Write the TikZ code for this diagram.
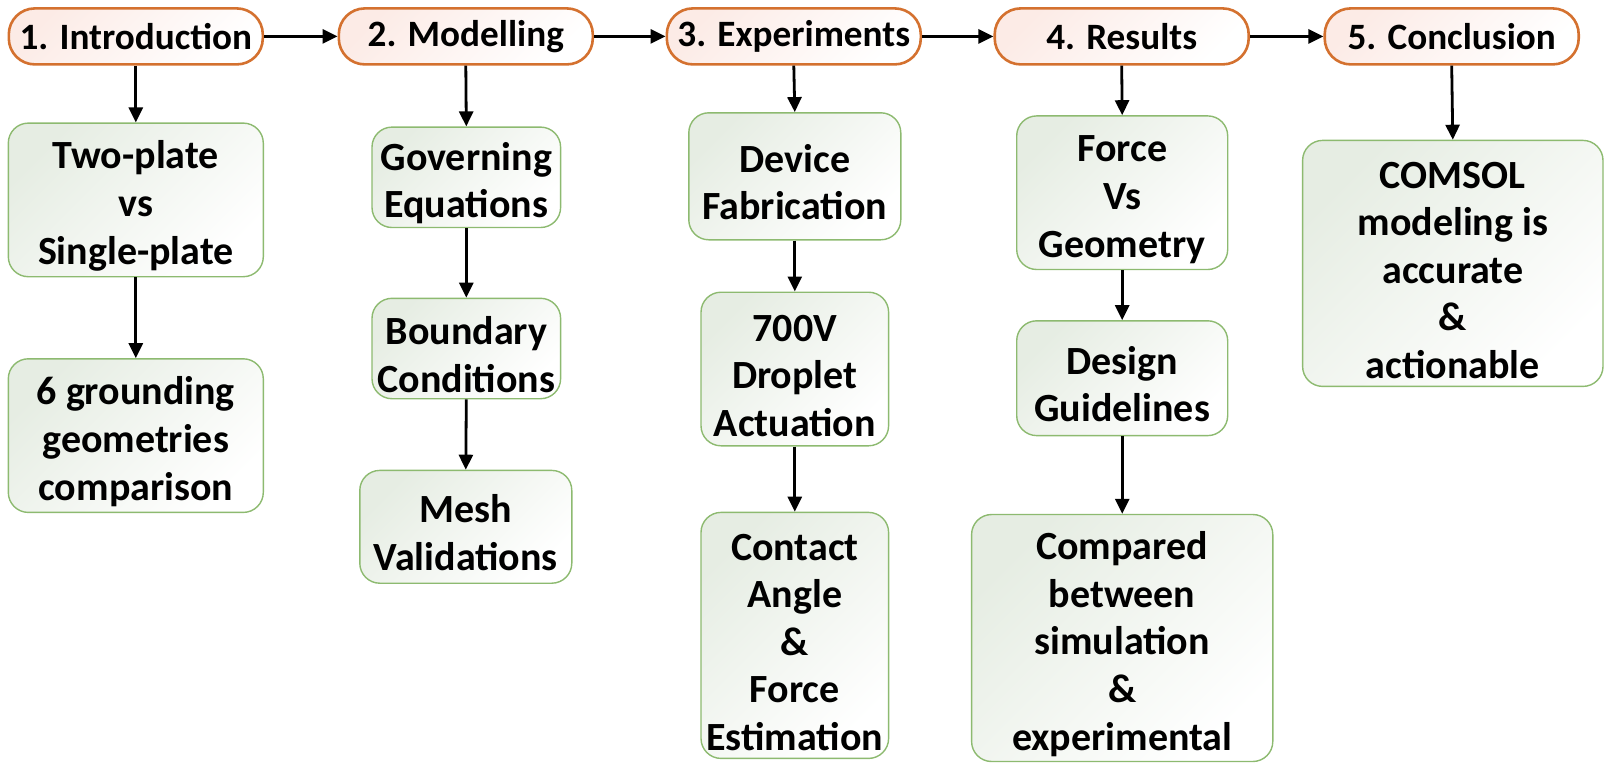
\documentclass[tikz,border=0pt]{standalone}
\usepackage{fontspec}
\setmainfont{Carlito}
\usetikzlibrary{arrows.meta}
\definecolor{hdrline}{HTML}{D4712F}
\definecolor{hdrfill}{HTML}{FCEBE6}
\definecolor{boxline}{HTML}{8DBA70}
\definecolor{boxfill}{HTML}{E6EDE3}
\newcommand\firstup{\rule{0pt}{20pt}}
\tikzset{
  hdr/.style={draw=hdrline, line width=1.3pt, rounded corners=13pt,
    top color=hdrfill, bottom color=white, shading angle=45,
    minimum width=127pt, minimum height=28pt, inner sep=0pt,
    font=\fontsize{18.6}{24}\selectfont\bfseries},
  gbox/.style={draw=boxline, line width=0.7pt, rounded corners=10pt,
    top color=boxfill, bottom color=white, shading angle=45,
    inner sep=0pt, align=center,
    font=\fontsize{20}{23.8}\selectfont\bfseries},
  conn/.style={line width=1.4pt, -{Triangle[length=7.5pt,width=7pt]}}
}
\begin{document}
\begin{tikzpicture}[x=0.5pt,y=-0.5pt]
\useasboundingbox (0,0) rectangle (1607,783);
% headers
\node[hdr] (h1) at (135.8,36.4) {1. Introduction};
\node[hdr] (h2) at (465.8,36.4) {2. Modelling};
\node[hdr] (h3) at (793.8,36.4) {3. Experiments};
\node[hdr] (h4) at (1121.7,36.4) {4. Results};
\node[hdr] (h5) at (1451.7,36.4) {5. Conclusion};
% column 1
\node[gbox, minimum width=127.5pt, minimum height=76.8pt] (a1) at (135.8,199.9) {\firstup Two-plate\\vs\\Single-plate};
\node[gbox, minimum width=127.5pt, minimum height=76.8pt] (a2) at (135.8,435.6) {\firstup 6 grounding\\geometries\\comparison};
% column 2
\node[gbox, minimum width=94.3pt, minimum height=50.2pt] (b1) at (466.3,177.3) {\firstup Governing\\Equations};
\node[gbox, minimum width=94.3pt, minimum height=50.2pt] (b2) at (466.3,348.5) {\firstup Boundary\\Conditions};
\node[gbox, minimum width=106pt, minimum height=56.4pt] (b3) at (465.8,526.8) {\firstup Mesh\\Validations};
% column 3
\node[gbox, minimum width=106pt, minimum height=63.5pt] (c1) at (794.8,176.3) {\firstup Device\\Fabrication};
\node[gbox, minimum width=93.8pt, minimum height=76.8pt] (c2) at (794.8,369) {\firstup 700V\\Droplet\\Actuation};
\node[gbox, minimum width=93.8pt, minimum height=123pt] (c3) at (794.8,635.4) {\firstup Contact\\Angle\\\&\\Force\\Estimation};
% column 4
\node[gbox, minimum width=105.5pt, minimum height=76.8pt] (d1) at (1122.2,192.7) {\firstup Force\\Vs\\Geometry};
\node[gbox, minimum width=105.5pt, minimum height=57.4pt] (d2) at (1122.2,378.2) {\firstup Design\\Guidelines};
\node[gbox, minimum width=150.6pt, minimum height=123.5pt] (d3) at (1122.2,638) {\firstup Compared\\between\\simulation\\\&\\experimental};
% column 5
\node[gbox, minimum width=150.2pt, minimum height=123pt] (e1) at (1452.8,263.4) {\firstup COMSOL\\modeling is\\accurate\\\&\\actionable};
% connectors
\draw[conn] (h1) -- (h2);
\draw[conn] (h2) -- (h3);
\draw[conn] (h3) -- (h4);
\draw[conn] (h4) -- (h5);
\draw[conn] (h1.south) -- (a1.north);
\draw[conn] (a1.south) -- (a2.north);
\draw[conn] (h2.south) -- (b1.north);
\draw[conn] (b1.south) -- (b2.north);
\draw[conn] (b2.south) -- (b3.north);
\draw[conn] (h3.south) -- (c1.north);
\draw[conn] (c1.south) -- (c2.north);
\draw[conn] (c2.south) -- (c3.north);
\draw[conn] (h4.south) -- (d1.north);
\draw[conn] (d1.south) -- (d2.north);
\draw[conn] (d2.south) -- (d3.north);
\draw[conn] (h5.south) -- (e1.north);
\end{tikzpicture}
\end{document}
